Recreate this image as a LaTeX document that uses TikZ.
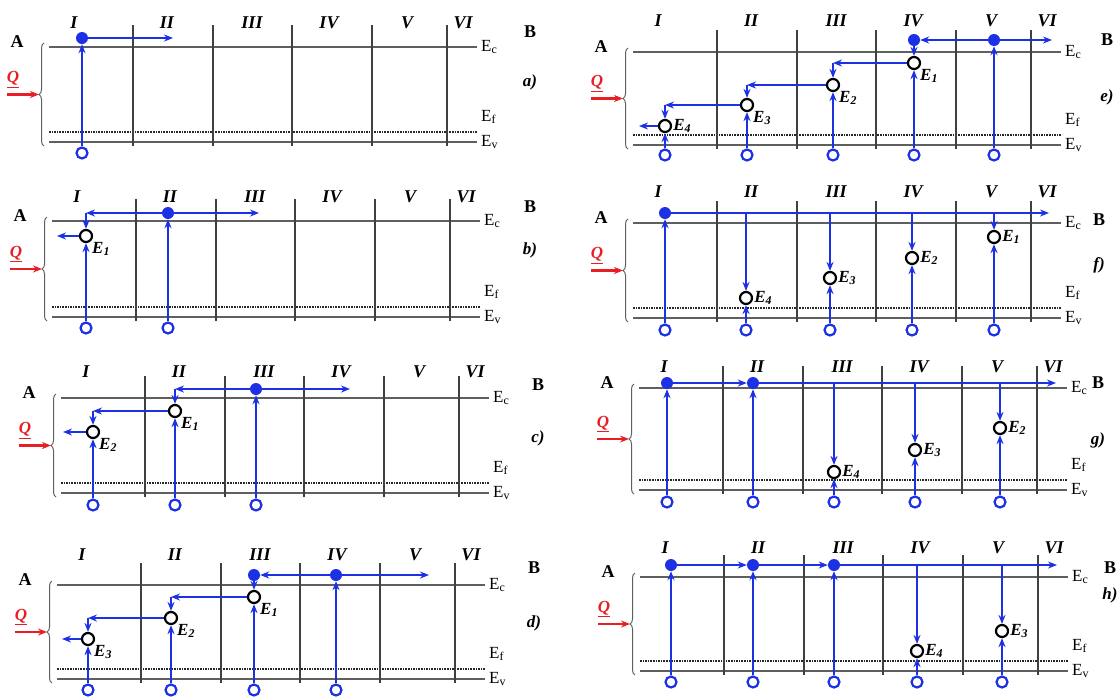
\documentclass[tikz,border=0pt]{standalone}
\usepackage{fontspec}
\setmainfont{Liberation Serif}
\usetikzlibrary{arrows.meta, decorations.pathreplacing}
\definecolor{elec}{RGB}{28,48,228}
\definecolor{bandgray}{RGB}{95,95,95}
\definecolor{heat}{RGB}{232,30,36}

\begin{document}
\begin{tikzpicture}[x=1pt, y=-1pt,
    band/.style={bandgray, line width=2.3pt},
    wall/.style={black!75, line width=1.5pt},
    fermi/.style={black!85, line width=1.6pt, densely dotted},
    flow/.style={elec, line width=2.6pt, -{Stealth[length=9pt, width=7pt]}},
    heatarrow/.style={heat, line width=2.4pt, -{Stealth[length=9pt, width=7pt]}},
    brace/.style={decorate, decoration={brace, amplitude=5pt}, bandgray, line width=1pt},
    dot/.style={circle, fill=elec, minimum size=12pt, inner sep=0pt},
    src/.style={circle, draw=elec, line width=2.2pt, fill=white, minimum size=11pt, inner sep=0pt},
    hole/.style={circle, draw=black, line width=2.2pt, fill=white, minimum size=12pt, inner sep=0pt},
    roman/.style={font=\fontsize{18}{18}\selectfont\bfseries\itshape, inner sep=0pt},
    side/.style={font=\fontsize{18}{18}\selectfont\bfseries, inner sep=0pt},
    panel/.style={font=\fontsize{17}{17}\selectfont\bfseries\itshape, inner sep=0pt},
    lvl/.style={font=\fontsize{17}{17}\selectfont, inner sep=1pt, anchor=west},
    qtext/.style={heat, font=\fontsize{17}{17}\selectfont\bfseries\itshape, inner sep=0pt},
    elab/.style={font=\fontsize{17}{17}\selectfont\bfseries\itshape, inner sep=1pt, label distance=0pt}]

    % 1. Fix the page to the size of the reference
    \useasboundingbox (0,0) rectangle (1119,697);

    % 2. The eight frames: bands, walls, labels, brace and heat flow Q
    % name / x0 / y of E_c / band height / roman y / B x / B y / letter y
    \foreach \p/\xo/\yo/\h/\tl/\bx/\by/\ly in {
        a/49/47/95/-24/481/-15/35,  b/52/221/96/-24/478/-14/29,
        c/61/398/95/-26/477/-13/40, d/57/585/94/-30/477/-17/38,
        e/633/52/93/-31/474/-12/45, f/633/223/95/-31/466/-3/42,
        g/639/388/102/-21/459/-5/52, h/640/577/94/-29/470/-9/18}{
      \begin{scope}[shift={(\xo,\yo)}]
        \draw[band] (0,0) -- (428,0);                 % E_c
        \draw[band] (0,\h) -- (428,\h);               % E_v
        \draw[fermi] (0,{\h-10}) -- (428,{\h-10});    % E_f
        \foreach \wx in {84,164,243,323,398}
          \draw[wall] (\wx,-22) -- (\wx,{\h+4});
        \foreach \t/\lx in {I/25,II/118,III/203,IV/280,V/358,VI/414}
          \node[roman] (\p-r\t) at (\lx,\tl) {\t};
        \node[side] (\p-A) at (-32,-5) {A};
        \node[side] (\p-B) at (\bx,\by) {B};
        \node[panel] (\p-L) at (\bx,\ly) {\p)};
        \node[lvl] (\p-Ec) at (431,0) {E\textsubscript{c}};
        \node[lvl] (\p-Ef) at (431,{\h-25}) {E\textsubscript{f}};
        \node[lvl] (\p-Ev) at (431,\h) {E\textsubscript{v}};
        \draw[brace] (-5,{\h+4}) -- (-5,-4);
        \node[qtext] (\p-Q) at (-36,{\h/2-15}) {\underline{Q}};
        \coordinate (\p-q0) at (-42,{\h/2});
        \coordinate (\p-q1) at (-10,{\h/2});
        \draw[heatarrow] (\p-q0) -- (\p-q1);
      \end{scope}
    }

    % 3. Panel a) -- one electron lifted into the band
    \begin{scope}[shift={(49,47)}]
      \node[dot] (a-n1) at (33,-9) {};
      \node[src] (a-s1) at (33,106) {};
      \coordinate (a-t1) at (124,-9);
      \draw[flow] (a-n1) -- (a-t1);
      \draw[flow] (a-s1) -- (a-n1);
    \end{scope}

    % 4. Panel b)
    \begin{scope}[shift={(52,221)}]
      \node[dot] (b-n2) at (116,-8) {};
      \node[hole, label={[elab]below right:E\textsubscript{1}}] (b-h1) at (34,15) {};
      \node[src] (b-s1) at (34,107) {};
      \node[src] (b-s2) at (116,107) {};
      \coordinate (b-k1) at (34,-8);
      \coordinate (b-t2) at (207,-8);
      \coordinate (b-o1) at (5,15);
      \draw[flow] (b-n2) -- (b-t2);
      \draw[flow] (b-n2) -- (b-k1);
      \draw[flow] (b-k1) -- (b-h1);
      \draw[flow] (b-h1) -- (b-o1);
      \draw[flow] (b-s1) -- (b-h1);
      \draw[flow] (b-s2) -- (b-n2);
    \end{scope}

    % 5. Panel c)
    \begin{scope}[shift={(61,398)}]
      \node[dot] (c-n3) at (195,-9) {};
      \node[hole, label={[elab]below right:E\textsubscript{1}}] (c-h1) at (114,13) {};
      \node[hole, label={[elab]below right:E\textsubscript{2}}] (c-h2) at (32,34) {};
      \node[src] (c-s1) at (32,107) {};
      \node[src] (c-s2) at (114,107) {};
      \node[src] (c-s3) at (195,107) {};
      \coordinate (c-t3) at (289,-9);
      \coordinate (c-k2) at (114,-9);
      \coordinate (c-k1) at (32,13);
      \coordinate (c-o2) at (2,34);
      \draw[flow] (c-n3) -- (c-t3);
      \draw[flow] (c-n3) -- (c-k2);
      \draw[flow] (c-k2) -- (c-h1);
      \draw[flow] (c-h1) -- (c-k1);
      \draw[flow] (c-k1) -- (c-h2);
      \draw[flow] (c-h2) -- (c-o2);
      \draw[flow] (c-s1) -- (c-h2);
      \draw[flow] (c-s2) -- (c-h1);
      \draw[flow] (c-s3) -- (c-n3);
    \end{scope}

    % 6. Panel d)
    \begin{scope}[shift={(57,585)}]
      \node[dot] (d-n3) at (197,-10) {};
      \node[dot] (d-n4) at (279,-10) {};
      \node[hole, label={[elab]below right:E\textsubscript{1}}] (d-h1) at (197,12) {};
      \node[hole, label={[elab]below right:E\textsubscript{2}}] (d-h2) at (114,33) {};
      \node[hole, label={[elab]below right:E\textsubscript{3}}] (d-h3) at (31,54) {};
      \node[src] (d-s1) at (31,105) {};
      \node[src] (d-s2) at (114,105) {};
      \node[src] (d-s3) at (197,105) {};
      \node[src] (d-s4) at (279,105) {};
      \coordinate (d-t4) at (372,-10);
      \coordinate (d-k2) at (114,12);
      \coordinate (d-k1) at (31,33);
      \coordinate (d-o3) at (5,54);
      \draw[flow] (d-n4) -- (d-n3);
      \draw[flow] (d-n4) -- (d-t4);
      \draw[flow] (d-n3) -- (d-h1);
      \draw[flow] (d-h1) -- (d-k2);
      \draw[flow] (d-k2) -- (d-h2);
      \draw[flow] (d-h2) -- (d-k1);
      \draw[flow] (d-k1) -- (d-h3);
      \draw[flow] (d-h3) -- (d-o3);
      \draw[flow] (d-s1) -- (d-h3);
      \draw[flow] (d-s2) -- (d-h2);
      \draw[flow] (d-s3) -- (d-h1);
      \draw[flow] (d-s4) -- (d-n4);
    \end{scope}

    % 7. Panel e)
    \begin{scope}[shift={(633,52)}]
      \node[dot] (e-n4) at (281,-12) {};
      \node[dot] (e-n5) at (361,-12) {};
      \node[hole, label={[elab]below right:E\textsubscript{1}}] (e-h1) at (281,11) {};
      \node[hole, label={[elab]below right:E\textsubscript{2}}] (e-h2) at (200,33) {};
      \node[hole, label={[elab]below right:E\textsubscript{3}}] (e-h3) at (114,53) {};
      \node[hole, label={[elab]right:E\textsubscript{4}}] (e-h4) at (32,74) {};
      \node[src] (e-s1) at (32,103) {};
      \node[src] (e-s2) at (114,103) {};
      \node[src] (e-s3) at (200,103) {};
      \node[src] (e-s4) at (281,103) {};
      \node[src] (e-s5) at (361,103) {};
      \coordinate (e-t5) at (419,-12);
      \coordinate (e-k3) at (200,11);
      \coordinate (e-k2) at (114,33);
      \coordinate (e-k1) at (32,53);
      \coordinate (e-o4) at (6,74);
      \draw[flow] (e-n5) -- (e-n4);
      \draw[flow] (e-n5) -- (e-t5);
      \draw[flow] (e-n4) -- (e-h1);
      \draw[flow] (e-h1) -- (e-k3);
      \draw[flow] (e-k3) -- (e-h2);
      \draw[flow] (e-h2) -- (e-k2);
      \draw[flow] (e-k2) -- (e-h3);
      \draw[flow] (e-h3) -- (e-k1);
      \draw[flow] (e-k1) -- (e-h4);
      \draw[flow] (e-h4) -- (e-o4);
      \draw[flow] (e-s1) -- (e-h4);
      \draw[flow] (e-s2) -- (e-h3);
      \draw[flow] (e-s3) -- (e-h2);
      \draw[flow] (e-s4) -- (e-h1);
      \draw[flow] (e-s5) -- (e-n5);
    \end{scope}

    % 8. Panel f)
    \begin{scope}[shift={(633,223)}]
      \node[dot] (f-n1) at (32,-10) {};
      \node[hole, label={[elab]right:E\textsubscript{4}}] (f-h4) at (113,75) {};
      \node[hole, label={[elab]right:E\textsubscript{3}}] (f-h3) at (197,55) {};
      \node[hole, label={[elab]right:E\textsubscript{2}}] (f-h2) at (279,35) {};
      \node[hole, label={[elab]right:E\textsubscript{1}}] (f-h1) at (361,14) {};
      \node[src] (f-s1) at (32,107) {};
      \node[src] (f-s2) at (113,107) {};
      \node[src] (f-s3) at (197,107) {};
      \node[src] (f-s4) at (279,107) {};
      \node[src] (f-s5) at (361,107) {};
      \coordinate (f-t6) at (416,-10);
      \coordinate (f-p2) at (113,-10);
      \coordinate (f-p3) at (197,-10);
      \coordinate (f-p4) at (279,-10);
      \coordinate (f-p5) at (361,-10);
      \draw[flow] (f-n1) -- (f-t6);
      \draw[flow] (f-p2) -- (f-h4);
      \draw[flow] (f-p3) -- (f-h3);
      \draw[flow] (f-p4) -- (f-h2);
      \draw[flow] (f-p5) -- (f-h1);
      \draw[flow] (f-s1) -- (f-n1);
      \draw[flow] (f-s2) -- (f-h4);
      \draw[flow] (f-s3) -- (f-h3);
      \draw[flow] (f-s4) -- (f-h2);
      \draw[flow] (f-s5) -- (f-h1);
    \end{scope}

    % 9. Panel g)
    \begin{scope}[shift={(639,388)}]
      \node[dot] (g-n1) at (28,-5) {};
      \node[dot] (g-n2) at (114,-5) {};
      \node[hole, label={[elab]right:E\textsubscript{4}}] (g-h4) at (195,84) {};
      \node[hole, label={[elab]right:E\textsubscript{3}}] (g-h3) at (276,62) {};
      \node[hole, label={[elab]right:E\textsubscript{2}}] (g-h2) at (361,40) {};
      \node[src] (g-s1) at (28,114) {};
      \node[src] (g-s2) at (114,114) {};
      \node[src] (g-s3) at (195,114) {};
      \node[src] (g-s4) at (276,114) {};
      \node[src] (g-s5) at (361,114) {};
      \coordinate (g-t6) at (417,-5);
      \coordinate (g-p3) at (195,-5);
      \coordinate (g-p4) at (276,-5);
      \coordinate (g-p5) at (361,-5);
      \draw[flow] (g-n1) -- (g-n2);
      \draw[flow] (g-n2) -- (g-t6);
      \draw[flow] (g-p3) -- (g-h4);
      \draw[flow] (g-p4) -- (g-h3);
      \draw[flow] (g-p5) -- (g-h2);
      \draw[flow] (g-s1) -- (g-n1);
      \draw[flow] (g-s2) -- (g-n2);
      \draw[flow] (g-s3) -- (g-h4);
      \draw[flow] (g-s4) -- (g-h3);
      \draw[flow] (g-s5) -- (g-h2);
    \end{scope}

    % 10. Panel h)
    \begin{scope}[shift={(640,577)}]
      \node[dot] (h-n1) at (31,-12) {};
      \node[dot] (h-n2) at (113,-12) {};
      \node[dot] (h-n3) at (194,-12) {};
      \node[hole, label={[elab]right:E\textsubscript{4}}] (h-h4) at (277,74) {};
      \node[hole, label={[elab]right:E\textsubscript{3}}] (h-h3) at (362,54) {};
      \node[src] (h-s1) at (31,105) {};
      \node[src] (h-s2) at (113,105) {};
      \node[src] (h-s3) at (194,105) {};
      \node[src] (h-s4) at (277,105) {};
      \node[src] (h-s5) at (362,105) {};
      \coordinate (h-t6) at (417,-12);
      \coordinate (h-p4) at (277,-12);
      \coordinate (h-p5) at (362,-12);
      \draw[flow] (h-n1) -- (h-n2);
      \draw[flow] (h-n2) -- (h-n3);
      \draw[flow] (h-n3) -- (h-t6);
      \draw[flow] (h-p4) -- (h-h4);
      \draw[flow] (h-p5) -- (h-h3);
      \draw[flow] (h-s1) -- (h-n1);
      \draw[flow] (h-s2) -- (h-n2);
      \draw[flow] (h-s3) -- (h-n3);
      \draw[flow] (h-s4) -- (h-h4);
      \draw[flow] (h-s5) -- (h-h3);
    \end{scope}

\end{tikzpicture}
\end{document}
